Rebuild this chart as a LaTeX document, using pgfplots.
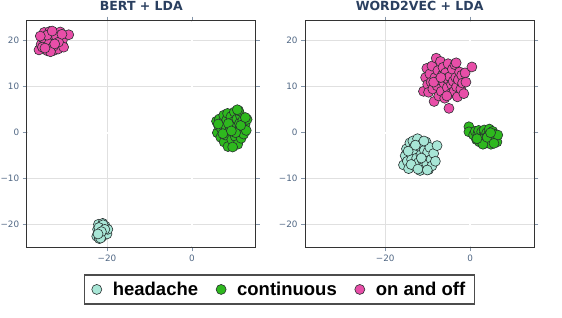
\documentclass[border=0pt]{standalone}
\usepackage{pgfplots}
\pgfplotsset{compat=1.18}
\usepackage{fontspec}
\setmainfont{DejaVu Sans}
\newfontfamily\tickfont{DejaVu Sans}
\newfontfamily\titlefont{DejaVu Sans}
\newfontfamily\legfont{Liberation Sans}
\definecolor{headcol}{RGB}{168,230,214}
\definecolor{contcol}{RGB}{46,184,30}
\definecolor{oncol}{RGB}{232,78,168}
\definecolor{edgecol}{RGB}{40,48,48}
\definecolor{titlecol}{HTML}{2A3F5F}
\definecolor{tickcol}{HTML}{506784}
\definecolor{gridcol}{RGB}{224,224,224}
\pgfplotsset{
  panel/.style={
    scale only axis, width=229.3pt, height=226.6pt,
    xmin=-38.9, xmax=15.1, ymin=-24.9, ymax=24.35,
    xtick={-20,0}, xticklabels={−20,0},
    ytick={-20,-10,0,10,20}, yticklabels={−20,−10,0,10,20},
    tick align=outside, major tick length=4pt,
    tick style={draw=tickcol!70, line width=0.6pt},
    tick label style={font=\tickfont\fontsize{8.8}{10}\selectfont, text=tickcol},
    grid=major, major grid style={draw=gridcol, line width=0.8pt},
    axis line style={draw=black!80, line width=1pt},
    title style={font=\titlefont\fontsize{12.5}{14}\selectfont\bfseries, text=titlecol, anchor=base, at={(0.5,1)}, yshift=4pt},
  },
  hd/.style={only marks, mark=*, mark size=5pt, mark options={fill=headcol, draw=edgecol, line width=0.6pt}},
  ct/.style={only marks, mark=*, mark size=5pt, mark options={fill=contcol, draw=edgecol, line width=0.6pt}},
  oo/.style={only marks, mark=*, mark size=5pt, mark options={fill=oncol, draw=edgecol, line width=0.6pt}},
}
\begin{document}
\begin{tikzpicture}
\useasboundingbox (0,0) rectangle (562pt,317pt);
\begin{axis}[panel, at={(26.7pt,69.7pt)}, anchor=south west, title={BERT + LDA},
  legend columns=3,
  legend style={at={(1.1025,-0.186)}, anchor=center, draw=black!70, line width=1.2pt,
    font=\legfont\fontsize{18.5}{20}\selectfont\bfseries, inner xsep=7pt, inner ysep=5pt,
    /tikz/every odd column/.append style={column sep=9pt},
    /tikz/every even column/.append style={column sep=16pt}},
  legend cell align=left]
\draw[white, line width=1.8pt] (axis cs:0,-24.6) -- (axis cs:0,24.05);
\draw[white, line width=1.8pt] (axis cs:-38.6,0) -- (axis cs:14.8,0);
\addplot[hd] coordinates {(-22.4,-22.5)(-22.2,-21.0)(-22.0,-19.9)(-21.8,-23.0)(-21.6,-21.8)(-21.4,-20.5)(-21.2,-22.6)(-21.0,-19.7)(-20.8,-21.2)(-20.6,-22.2)(-20.4,-20.3)(-20.2,-21.6)(-20.0,-22.0)(-19.8,-21.0)(-21.5,-22.9)(-20.9,-20.0)(-21.9,-20.6)(-20.5,-21.0)(-21.3,-21.5)(-22.1,-22.0)};
\addlegendentry{headache}
\addplot[ct] coordinates {(5.8,2.5)(6.0,0.0)(6.3,1.5)(6.5,3.0)(6.8,-1.0)(7.0,0.8)(7.2,2.2)(7.5,3.8)(7.6,-2.0)(7.9,-0.5)(8.0,1.2)(8.2,2.8)(8.4,4.2)(8.5,-3.0)(8.8,0.3)(9.0,1.8)(9.2,3.5)(9.4,-1.5)(9.6,0.8)(9.8,2.4)(10.0,4.5)(10.2,-0.8)(10.4,1.4)(10.6,3.0)(10.8,-2.5)(11.0,0.2)(11.2,2.0)(11.4,3.8)(11.6,-1.2)(11.8,1.0)(12.0,2.7)(12.2,-0.3)(12.5,1.8)(12.8,0.5)(13.0,2.9)(11.0,4.8)(9.6,-3.1)(7.3,-0.2)(10.3,0.0)(8.6,2.0)(9.3,0.4)(11.5,1.6)(12.6,3.3)(6.2,1.9)(10.7,5.0)};
\addlegendentry{continuous}
\addplot[oo] coordinates {(-36.0,18.0)(-35.5,19.2)(-35.0,20.5)(-34.8,21.8)(-34.2,19.0)(-34.0,17.8)(-33.8,20.8)(-33.5,22.0)(-33.2,18.5)(-33.0,19.8)(-32.8,21.0)(-32.5,17.9)(-32.2,20.2)(-32.0,21.6)(-31.8,19.0)(-31.5,18.2)(-31.2,20.6)(-31.0,21.9)(-30.8,19.5)(-30.5,20.1)(-29.0,21.3)(-34.5,20.0)(-33.6,19.4)(-32.6,18.8)(-31.9,20.9)(-35.2,18.6)(-30.2,18.6)(-34.1,21.2)(-32.9,22.1)(-33.3,17.6)(-31.4,19.7)(-35.7,21.0)(-30.6,21.4)(-32.3,19.3)(-34.6,18.4)};
\addlegendentry{on and off}
\end{axis}
\begin{axis}[panel, at={(305pt,69.7pt)}, anchor=south west, title={WORD2VEC + LDA}]
\draw[white, line width=1.8pt] (axis cs:0,-24.6) -- (axis cs:0,24.05);
\draw[white, line width=1.8pt] (axis cs:-38.6,0) -- (axis cs:14.8,0);
\addplot[hd] coordinates {(-15.7,-7.0)(-15.3,-5.0)(-15.0,-3.5)(-14.8,-6.2)(-14.5,-7.8)(-14.2,-2.2)(-14.0,-4.5)(-13.8,-5.8)(-13.5,-1.8)(-13.3,-3.2)(-13.0,-7.2)(-12.8,-4.0)(-12.6,-5.5)(-12.4,-1.3)(-12.2,-6.5)(-12.0,-3.0)(-11.8,-8.2)(-11.6,-4.8)(-11.4,-2.5)(-11.2,-6.0)(-11.0,-7.5)(-10.8,-3.8)(-10.6,-5.2)(-10.4,-2.0)(-10.2,-6.8)(-10.0,-4.2)(-9.8,-8.0)(-9.5,-3.2)(-9.2,-5.8)(-9.0,-7.2)(-8.6,-4.5)(-8.2,-6.2)(-7.8,-2.8)(-13.9,-6.9)(-12.9,-2.7)(-11.5,-5.5)(-10.9,-1.8)(-12.3,-7.9)(-14.6,-4.0)(-10.1,-8.1)};
\addplot[ct] coordinates {(-0.3,1.3)(-0.3,0.2)(0.8,-0.5)(1.2,0.3)(1.5,-1.5)(1.8,-0.2)(2.0,0.5)(2.2,-2.0)(2.5,-1.0)(2.7,0.2)(2.9,-1.8)(3.1,-0.6)(3.3,0.6)(3.5,-2.3)(3.7,-1.2)(3.9,0.0)(4.1,-1.9)(4.3,-0.4)(4.5,0.8)(4.7,-1.4)(4.9,-2.5)(5.1,-0.8)(5.3,0.3)(5.5,-1.6)(5.8,-0.3)(6.0,-1.1)(6.3,-2.0)(6.5,-0.5)(2.3,-1.4)(3.0,-2.5)(4.0,-1.0)(4.8,0.0)(5.6,-2.3)(1.6,-1.3)};
\addplot[oo] coordinates {(-11.0,9.0)(-10.5,12.0)(-10.2,14.0)(-10.0,10.5)(-9.8,8.8)(-9.5,12.8)(-9.2,11.0)(-9.0,14.5)(-8.8,9.5)(-8.5,6.8)(-8.3,12.0)(-8.0,16.2)(-7.8,10.2)(-7.6,13.5)(-7.4,8.0)(-7.2,11.5)(-7.0,15.5)(-6.8,9.0)(-6.6,12.5)(-6.4,14.2)(-6.2,10.8)(-6.0,7.5)(-5.8,13.0)(-5.6,11.8)(-5.4,9.8)(-5.2,15.0)(-5.0,5.3)(-4.8,12.2)(-4.6,8.5)(-4.4,10.5)(-4.2,13.8)(-4.0,11.2)(-3.8,9.0)(-3.6,14.8)(-3.4,12.0)(-3.2,10.0)(-3.0,7.8)(-2.8,11.5)(-2.5,13.2)(-2.2,9.5)(-2.0,12.5)(-1.8,10.8)(-1.5,8.5)(-1.2,13.0)(-1.0,11.0)(0.4,14.3)(-8.6,11.0)(-6.9,12.0)(-5.5,8.0)(-3.3,15.2)};
\end{axis}
\end{tikzpicture}
\end{document}
